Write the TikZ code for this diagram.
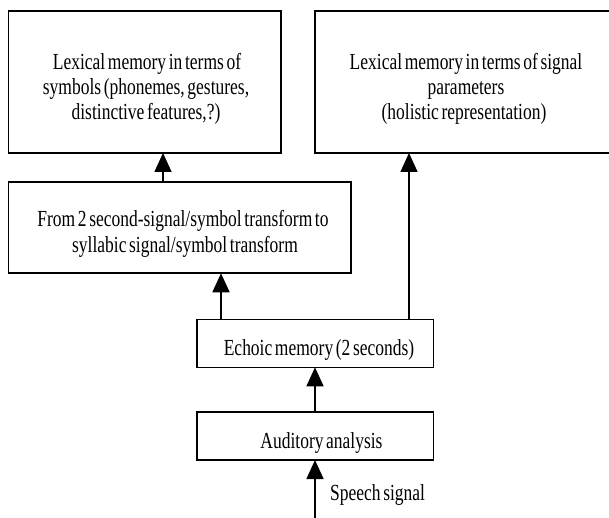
\documentclass[tikz,border=0pt]{standalone}
\usepackage{fontspec}
\setmainfont{Liberation Serif}[FakeStretch=0.76,WordSpace={0.6}]
\usetikzlibrary{arrows.meta}
\begin{document}
\begin{tikzpicture}[x=1pt,y=-1pt,
  box/.style={draw,line width=1.6pt,inner sep=0pt,outer sep=0pt},
  lbl/.style={anchor=base,inner sep=0pt,font=\fontsize{23}{27}\selectfont},
  arr/.style={line width=1.6pt,-{Triangle[width=17pt,length=19pt]}}]
\useasboundingbox (0,0) rectangle (609,518);
% boxes
\node[box,minimum width=272.5pt,minimum height=142pt] (b1) at (144.75,82) {};
\node[box,minimum width=302pt,minimum height=142pt] (b2) at (466,82) {};
\node[box,minimum width=342.5pt,minimum height=91.5pt] (b3) at (179.75,227.5) {};
\node[box,minimum width=236.6pt,minimum height=48pt] (echo) at (315,343.3) {};
\node[box,minimum width=236.6pt,minimum height=48.3pt] (aud) at (315,435.85) {};
\coordinate (src) at (315,518);
% texts
\node[lbl] (t11) at (147,70) {Lexical memory in terms of};
\node[lbl] (t12) at (146,95) {symbols (phonemes, gestures,};
\node[lbl] (t13) at (146,120) {distinctive features,?)};
\node[lbl] (t21) at (466,70) {Lexical memory in terms of signal};
\node[lbl] (t22) at (466,95) {parameters};
\node[lbl] (t23) at (464,120) {(holistic representation)};
\node[lbl] (t31) at (183,227) {From 2 second-signal/symbol transform to};
\node[lbl] (t32) at (185,252) {syllabic signal/symbol transform};
\node[lbl] (t4) at (319,355) {Echoic memory (2 seconds)};
\node[lbl] (t5) at (321.5,448.3) {Auditory analysis};
\node[lbl,anchor=base west] (t6) at (330,500) {Speech signal};
% connectors
\draw[arr] (b3.north -| 163,0) -- (b1.south -| 163,0);
\draw[arr] (echo.north -| 409,0) -- (b2.south -| 409,0);
\draw[arr] (echo.north -| 221,0) -- (b3.south -| 221,0);
\draw[arr] (aud.north) -- (echo.south);
\draw[arr] (src) -- (aud.south);
\end{tikzpicture}
\end{document}
